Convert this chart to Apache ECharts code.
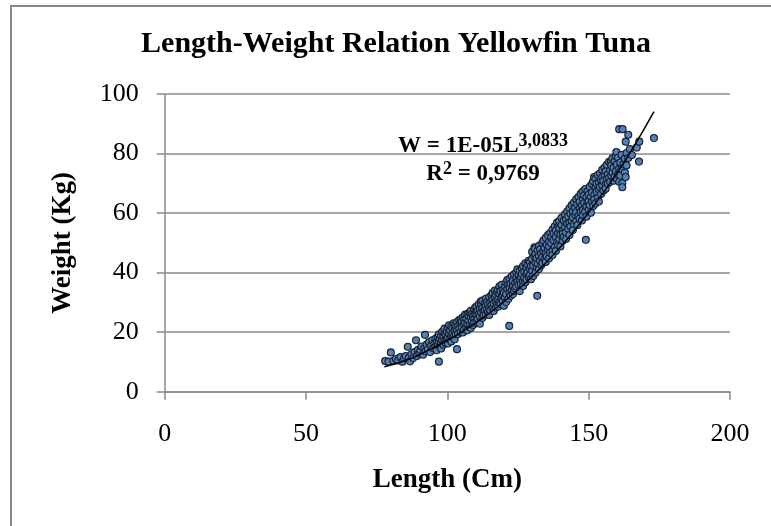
<!DOCTYPE html>
<html><head><meta charset="utf-8">
<script src="https://cdn.jsdelivr.net/npm/echarts@6/dist/echarts.min.js"></script>
<style>html,body{margin:0;padding:0;background:#fff}#c{width:771px;height:526px}</style>
</head><body><div id="c"></div>
<script>
const chartTitle = 'Length-Weight Relation Yellowfin Tuna';
const xAxisName = 'Length (Cm)';
const yAxisName = 'Weight (Kg)';
const equationMain = 'W = 1E-05L';
const equationExponent = '3,0833';
const rSquaredValue = '0,9769';
const xTicks = [0, 50, 100, 150, 200];
const yTicks = [0, 20, 40, 60, 80, 100];

// [length cm, weight kg]
const tunaPoints = [
[78.0,10.3],[79.2,10.1],[80.0,13.2],[80.9,10.4],[81.8,11.0],[82.6,10.5],[83.4,11.6],[84.1,10.1],[84.7,11.2],[85.3,12.0],[86.0,15.1],[86.4,11.5],[86.8,10.2],[87.3,12.6],[87.9,11.3],[88.4,13.3],[88.9,17.3],[89.2,12.0],[89.6,14.1],[90.1,12.8],[90.5,13.9],[90.9,15.2],[91.4,12.4],[91.8,14.5],[92.1,19.1],[92.3,13.6],[92.7,15.8],[93.1,14.2],[93.5,16.6],[93.9,13.3],[94.3,15.4],[94.7,17.3],[95.0,14.6],[95.4,16.2],
[95.8,15.0],[95.8,17.8],[96.2,16.6],[96.2,13.9],[96.6,18.4],[96.6,15.7],[97.0,10.1],[97.0,16.9],[97.0,19.3],[97.4,15.2],[97.4,17.8],[97.8,18.9],[97.8,16.3],[97.8,14.5],[98.2,17.3],[98.2,20.1],[98.6,15.8],[98.6,18.6],[99.0,19.7],[99.0,17.0],[99.0,21.2],[99.4,16.4],[99.4,18.9],[99.8,20.3],[99.8,17.8],[100.2,18.3],[100.2,21.5],[100.2,16.2],[100.6,19.5],[100.6,22.3],[101.0,17.6],[101.0,20.6],[101.4,18.9],[101.4,22.0],[101.4,16.9],[101.8,21.2],[101.8,19.4],[102.2,23.0],[102.2,18.4],[102.6,20.5],[102.6,22.4],[102.6,17.6],[103.4,14.3],[103.0,21.6],[103.0,19.3],[103.4,23.4],[103.4,20.8],[103.8,22.0],[103.8,19.4],[104.2,24.1],[104.2,21.2],[104.7,24.3],[104.7,20.0],[104.7,22.8],[105.1,21.7],[105.1,23.6],[105.5,19.9],[105.5,25.0],[105.9,22.6],[105.9,24.2],[105.9,20.9],[106.3,23.3],[106.3,25.9],[106.7,21.5],[106.7,24.6],[107.1,26.1],[107.1,22.8],[107.1,20.6],[107.5,24.0],[107.5,25.5],[107.9,22.3],[107.9,26.7],[108.3,24.9],[108.3,21.4],[108.3,27.2],[108.7,23.6],[108.7,26.0],[109.1,25.3],[109.1,22.4],[109.5,27.6],[109.5,24.5],[109.5,23.2],[109.9,26.1],[109.9,28.3],
[110.3,23.5],[110.3,25.9],[110.3,28.6],[110.7,27.1],[110.7,24.6],[111.1,29.4],[111.1,26.0],[111.5,22.8],[111.5,27.9],[111.5,25.3],[111.8,30.3],[112.0,26.6],[112.0,29.0],[112.4,24.8],[112.4,28.1],[112.4,30.6],[112.8,27.0],[112.8,25.7],[113.2,29.6],[113.2,27.4],[113.6,31.2],[113.6,25.9],[113.6,28.8],[114.0,27.5],[114.0,30.1],[114.4,29.3],[114.4,26.6],[114.8,31.7],[114.8,28.2],[114.8,25.8],[115.2,30.0],[115.2,27.4],[115.6,32.4],[115.6,29.1],[116.0,28.0],[116.0,30.9],[116.0,33.1],[116.4,29.6],[116.4,27.1],[116.8,31.8],[116.8,34.0],[117.2,30.2],[117.2,28.3],[117.2,32.6],[117.6,33.5],[117.6,29.4],[117.9,34.2],[118.0,31.0],[118.0,28.6],[118.4,32.9],[118.4,30.1],[118.4,35.3],[118.8,29.5],[118.8,33.8],[119.2,31.7],[119.2,35.9],[119.6,30.4],[119.6,34.2],[119.6,32.5],[120.0,28.9],[120.0,33.3],[120.4,35.4],[120.4,31.6],[120.8,32.8],[120.8,36.7],[120.8,30.1],[121.2,34.5],[121.2,37.5],[121.6,31.2],[121.6,35.8],[121.9,22.1],[122.0,33.5],[122.0,37.9],[122.0,34.9],[122.4,32.2],[122.4,36.3],[122.8,38.8],[122.8,34.0],[123.2,35.6],[123.2,32.8],[123.2,37.2],[123.6,39.4],[123.6,33.9],[124.0,36.5],[124.0,34.7],[124.4,38.1],[124.4,35.3],[124.4,40.0],[124.8,41.1],[124.8,37.0],[125.2,35.9],[125.2,39.2],[125.6,33.8],[125.6,37.7],[125.6,40.6],[126.0,38.6],[126.0,36.2],[126.4,41.4],[126.4,39.5],[126.8,37.1],[126.8,35.5],[126.8,42.2],[127.2,40.3],[127.2,38.2],[127.6,43.1],[127.6,36.8],[128.0,39.6],[128.0,41.7],[128.0,37.7],[128.4,42.8],[128.4,40.2],[128.8,38.5],[128.8,44.0],[129.2,41.3],[129.2,39.2],[129.2,43.4],[129.6,37.8],[129.6,42.2],
[130.0,44.7],[130.0,40.6],[130.0,47.0],[130.4,42.4],[130.4,38.9],[130.8,48.5],[130.8,45.5],[131.0,48.0],[131.2,43.3],[131.2,40.0],[131.2,46.2],[131.6,41.8],[131.6,44.9],[131.8,32.2],[132.0,47.5],[132.0,43.0],[132.4,45.6],[132.4,41.2],[132.4,49.0],[132.8,44.0],[132.8,47.8],[133.2,42.5],[133.2,46.3],[133.6,49.9],[133.6,45.1],[133.6,43.3],[134.0,47.2],[134.0,50.8],[134.4,44.5],[134.4,48.3],[134.8,46.4],[134.8,51.7],[134.8,43.6],[135.2,49.4],[135.2,45.5],[135.6,52.6],[135.6,47.8],[136.0,44.8],[136.0,50.3],[136.0,48.7],[136.4,53.3],[136.4,46.8],[136.8,49.8],[136.8,51.9],[137.2,47.4],[137.2,54.5],[137.2,45.9],[137.6,50.9],[137.6,53.1],[138.0,48.6],[138.0,55.6],[138.4,52.0],[138.4,47.3],[138.4,54.2],[138.8,50.1],[138.8,56.8],[139.2,53.2],[139.2,49.2],[139.3,55.5],[139.6,57.3],[139.6,51.4],[139.6,54.9],[140.0,48.8],[140.0,52.8],[140.4,56.0],[140.4,58.4],[140.8,50.7],[140.8,54.1],[140.8,53.0],[141.2,57.5],[141.2,52.0],[141.6,59.6],[141.6,55.2],[142.0,53.6],[142.0,51.3],[142.0,57.8],[142.4,56.4],[142.4,60.5],[142.8,54.7],[142.8,58.9],[143.2,52.6],[143.2,61.6],[143.2,56.7],[143.6,59.8],[143.6,55.5],[144.0,62.7],[144.0,57.4],[144.4,54.3],[144.4,60.6],[144.4,58.6],[144.8,63.5],[144.8,56.3],[145.2,59.4],[145.2,61.8],[145.6,57.2],[145.6,64.6],[145.6,60.3],[146.0,55.9],[146.0,62.9],[146.4,65.4],[146.4,59.1],[146.8,61.5],[146.8,58.2],[146.8,63.8],[147.2,66.5],[147.2,60.4],[147.6,62.6],[147.6,57.5],[147.9,67.2],[148.0,64.8],[148.0,61.0],[148.0,59.3],[148.4,63.4],[148.4,66.0],[148.8,60.5],[148.8,68.1],[149.0,51.0],[149.2,62.3],[149.2,65.3],[149.2,58.8],[149.6,67.3],[149.6,63.7],
[150.0,61.2],[150.0,66.2],[150.0,64.0],[150.4,68.9],[150.4,62.7],[150.8,65.5],[150.8,60.1],[151.2,69.8],[151.2,63.8],[151.2,67.0],[151.6,62.4],[151.6,70.7],[151.9,72.1],[152.0,66.1],[152.0,64.6],[152.4,68.4],[152.4,71.6],[152.4,63.2],[152.8,67.3],[152.8,69.9],[153.2,72.8],[153.2,65.0],[153.6,70.2],[153.6,67.9],[153.6,63.9],[154.0,73.4],[154.0,68.8],[154.4,66.4],[154.4,71.1],[154.8,74.5],[154.8,69.3],[154.8,72.0],[155.2,67.5],[155.2,70.8],[155.6,75.3],[155.6,72.9],[156.0,69.6],[156.0,68.2],[156.0,74.0],[156.4,71.4],[156.4,76.2],[156.8,73.1],[156.8,69.9],[157.2,77.2],[157.2,71.8],[157.6,74.4],[157.6,70.5],[157.9,77.3],[158.0,72.6],[158.0,76.0],[158.4,73.6],[158.4,78.4],[158.8,70.9],[158.8,75.2],[159.2,77.5],[159.2,72.2],[159.6,74.0],[159.6,79.1],[159.8,80.5],[160.0,71.5],[160.0,76.3],[160.4,73.0],[160.4,78.6],[160.8,88.2],[160.8,75.0],[160.8,70.5],[161.2,77.0],[161.2,72.6],[161.6,79.6],[161.6,74.8],[161.9,70.0],[161.9,68.7],[162.0,88.2],[162.3,76.4],[162.8,78.3],[162.8,73.6],[163.1,84.0],[163.1,72.1],[163.4,80.2],[163.4,76.0],[164.0,86.3],[164.0,78.5],[164.6,81.5],[165.3,79.5],[167.0,82.0],[167.8,77.3],[167.9,84.0],[173.1,85.2]
];

// power trend line
const trendLength = [77.7, 85, 90, 95, 100, 105, 110, 115, 120, 125, 130, 135, 140, 145, 150, 155, 160, 165, 173.1];
const trendWeight = [8.4, 10.4, 12.4, 14.7, 17.2, 20.0, 23.1, 26.5, 30.2, 34.3, 38.7, 43.5, 48.6, 54.2, 60.2, 66.6, 73.5, 80.8, 94.1];

const FONT = 'Liberation Serif';
const GRAY = '#8a8a8a';
const chart = echarts.init(document.getElementById('c'), null, {renderer: 'canvas'});
chart.setOption({
  backgroundColor: '#ffffff',
  animation: false,
  title: [
    {
      text: chartTitle, left: 396, top: 29, textAlign: 'center', padding: 0,
      textStyle: {fontFamily: FONT, fontWeight: 'bold', fontSize: 30, color: '#000'}
    },
    {
      text: '{m|' + equationMain + '}{s|' + equationExponent + '}\n{m|R}{s|2}{m| = ' + rSquaredValue + '}',
      left: 483, top: 132, textAlign: 'center', padding: 0,
      textStyle: {
        rich: {
          m: {fontFamily: FONT, fontWeight: 'bold', fontSize: 23, lineHeight: 28, color: '#000'},
          s: {fontFamily: FONT, fontWeight: 'bold', fontSize: 18, lineHeight: 28, verticalAlign: 'top', color: '#000'}
        }
      }
    }
  ],
  graphic: [{
    type: 'rect', z: -10, silent: true,
    shape: {x: 11, y: 6, width: 1000, height: 1000},
    style: {fill: 'none', stroke: '#888888', lineWidth: 2}
  }],
  grid: {left: 164.7, right: 41, top: 94, bottom: 134.3, outerBoundsMode: 'none', containLabel: false},
  xAxis: {
    type: 'value', min: xTicks[0], max: xTicks[xTicks.length - 1], interval: 50,
    name: xAxisName, nameLocation: 'middle', nameGap: 75,
    nameTextStyle: {fontFamily: FONT, fontWeight: 'bold', fontSize: 27, color: '#000'},
    axisLine: {show: true, onZero: false, lineStyle: {color: GRAY, width: 1.5}},
    axisTick: {show: true, length: 8, lineStyle: {color: GRAY, width: 1.5}},
    axisLabel: {fontFamily: FONT, fontSize: 26, color: '#000', margin: 29},
    splitLine: {show: false}
  },
  yAxis: {
    type: 'value', min: yTicks[0], max: yTicks[yTicks.length - 1], interval: 20,
    name: yAxisName, nameLocation: 'middle', nameGap: 88,
    nameTextStyle: {fontFamily: FONT, fontWeight: 'bold', fontSize: 27, color: '#000'},
    axisLine: {show: true, lineStyle: {color: GRAY, width: 1.5}},
    axisTick: {show: true, length: 8, lineStyle: {color: GRAY, width: 1.5}},
    axisLabel: {fontFamily: FONT, fontSize: 26, color: '#000', margin: 26},
    splitLine: {show: true, lineStyle: {color: GRAY, width: 1.5}}
  },
  series: [
    {
      type: 'scatter', data: tunaPoints, symbol: 'circle', symbolSize: 7, z: 2,
      itemStyle: {color: '#4f81bd', borderColor: '#1a1f29', borderWidth: 1.1, opacity: 1}
    },
    {
      type: 'line', data: trendLength.map((l, i) => [l, trendWeight[i]]), smooth: true,
      showSymbol: false, symbol: 'none', z: 5,
      lineStyle: {color: '#000', width: 1.5}
    }
  ]
});
</script></body></html>
